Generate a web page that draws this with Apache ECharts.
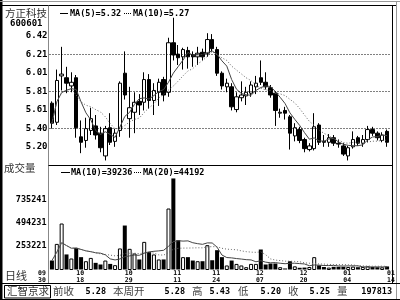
<!DOCTYPE html>
<html><head><meta charset="utf-8">
<script src="https://cdn.jsdelivr.net/npm/echarts@6/dist/echarts.min.js"></script>
<style>html,body{margin:0;padding:0;background:#fff}#c{width:400px;height:300px}</style>
</head><body><div id="c"></div>
<script>
// ---- data ----
const opens  = [5.68,5.47,5.98,5.96,5.87,5.96,5.31,5.27,5.38,5.43,5.35,5.10,5.41,5.26,5.38,6.01,5.51,5.58,5.70,5.69,
                5.94,5.71,5.80,5.94,5.80,6.345,6.22,6.19,6.26,6.21,6.19,6.24,6.23,6.38,6.27,6.01,5.86,5.86,5.61,5.74,
                5.76,5.79,5.86,5.96,5.91,5.85,5.79,5.57,5.60,5.53,5.32,5.39,5.28,5.17,5.18,5.44,5.26,5.25,5.30,5.24,
                5.21,5.10,5.20,5.30,5.24,5.28,5.39,5.35,5.27,5.37];
const closes = [5.46,5.93,6.00,5.90,5.91,5.41,5.25,5.40,5.51,5.33,5.19,5.40,5.25,5.35,5.90,5.77,5.63,5.69,5.66,5.94,
                5.71,5.82,5.91,5.77,6.345,6.21,6.18,6.27,6.19,6.19,6.23,6.19,6.38,6.28,6.01,5.87,5.90,5.64,5.75,5.77,
                5.80,5.88,5.90,5.91,5.86,5.77,5.60,5.58,5.57,5.35,5.41,5.27,5.18,5.21,5.42,5.25,5.25,5.30,5.24,5.23,
                5.12,5.19,5.28,5.24,5.28,5.39,5.35,5.30,5.33,5.25];
const lows   = [5.40,5.44,5.82,5.79,5.80,5.30,5.13,5.19,5.33,5.28,5.14,5.05,5.22,5.20,5.31,5.72,5.30,5.35,5.55,5.60,
                5.62,5.55,5.65,5.70,5.75,6.15,6.10,6.05,6.06,6.08,6.10,6.15,6.19,6.25,5.98,5.83,5.80,5.60,5.58,5.70,
                5.66,5.75,5.78,5.88,5.83,5.74,5.43,5.52,5.50,5.17,5.26,5.24,5.14,5.15,5.16,5.22,5.20,5.20,5.21,5.19,
                5.10,5.05,5.18,5.21,5.20,5.25,5.32,5.27,5.25,5.20];
const highs  = [5.70,6.05,6.30,6.08,6.02,5.99,5.49,5.52,5.63,5.55,5.42,5.43,5.57,5.40,5.92,6.25,5.86,5.80,5.78,6.02,
                6.00,5.90,5.95,5.97,6.40,6.62,6.32,6.29,6.30,6.25,6.30,6.28,6.45,6.44,6.30,6.03,5.95,5.90,5.80,5.92,
                5.86,5.92,5.98,6.15,6.02,5.88,5.81,5.62,5.64,5.55,5.46,5.42,5.30,5.24,5.57,5.46,5.33,5.34,5.33,5.28,
                5.24,5.21,5.37,5.32,5.33,5.43,5.42,5.37,5.36,5.39];
const volumes = [105000,277000,488000,168000,126000,236000,140000,98000,132000,81000,64000,105000,70000,57000,230000,
                 467000,226000,178000,116000,298000,194000,168000,116000,116000,643000,954000,315000,140000,140000,105000,
                 98000,98000,264000,108000,212000,140000,54000,105000,70000,54000,36000,70000,70000,219000,64000,
                 74000,74000,36000,23000,98000,45000,30000,32000,38000,140000,55000,38000,32000,40000,40000,
                 40000,38000,42000,36000,38000,45000,38000,36000,35000,43813];
const priceTickLabels  = ["5.20","5.40","5.61","5.81","6.01","6.21","6.42"];
const volumeTickLabels = ["253221","494231","735241"];
const dateLabelIndex = [0,5,15,25,33,42,51,60,69];
const dateLabelText  = ["09\n30","10\n18","10\n29","11\n11","11\n24","12\n07","12\n20","01\n04","01\n14"];
const priceLegend  = ["MA(5)=5.32","MA(10)=5.27"];
const volumeLegend = ["MA(10)=39236","MA(20)=44192"];
const stockName = "方正科技", stockCode = "600601";
const statusLabels = ["前收","本周开","高","低","收","量"];
const statusValues = ["5.28","5.28","5.43","5.20","5.25","197813"];

// ---- chart ----
const cats = closes.map((_, i) => String(i));
function ma(arr, n) {
  return arr.map((_, i) => { const s = Math.max(0, i - n + 1); let t = 0; for (let k = s; k <= i; k++) t += arr[k]; return t / (i - s + 1); });
}
const PSTEP = 0.2035, PBASE = 5.198, PMIN = PBASE - PSTEP, PPX = 90.9;
const VSTEP = 241010, VMIN = 253221 - VSTEP, VPX = 10344;
const GL = 49.5, GW = 340;
const mono = '"DejaVu Sans Mono"', cjk = '"Noto Sans CJK SC"';

const candle = opens.map((o, i) => [o, closes[i], lows[i], highs[i]]);
const volData = volumes.map((v, i) => ({
  value: v,
  itemStyle: closes[i] >= opens[i] ? { color: '#fff', borderColor: '#000', borderWidth: 1 } : { color: '#000', borderColor: '#000', borderWidth: 0 }
}));

const chart = echarts.init(document.getElementById('c'), null, { renderer: 'canvas' });
const hidden = { axisLine: { show: false }, axisTick: { show: false }, splitLine: { show: false } };
const dateLabelStyle = { fontFamily: mono, fontWeight: 'bold', fontSize: 6.5, lineHeight: 6.5, color: '#000', margin: 1 };

function txt(x, y, s, font, opts) {
  return { type: 'text', x: x, y: y, z: 10,
    style: Object.assign({ text: s, font: font, fill: '#000', textVerticalAlign: 'middle' }, (opts || {})) };
}
function ln(x1, y1, x2, y2, stroke, dash) {
  return { type: 'line', z: 5, shape: { x1, y1, x2, y2 }, style: { stroke: stroke, lineWidth: 1, lineDash: dash || null } };
}

const sx = [53, 113, 192, 238, 288, 337];
const sv = [106, 185, 230, 281, 330, 392];
const graphics = [
  { type: 'rect', z: 5, shape: { x: 0, y: 0, width: 2.5, height: 300 }, style: { fill: '#000' } },
  ln(0, 1.5, 400, 1.5, '#999'),
  ln(0, 5.5, 396, 5.5, '#000'),
  ln(392.5, 5.5, 392.5, 283.5, '#000'),
  ln(396.5, 1.5, 396.5, 299.5, '#999'),
  ln(48.5, 5.5, 48.5, 283.5, '#888'),
  ln(48.5, 165.5, 392.5, 165.5, '#000'),
  ln(0, 283.5, 400, 283.5, '#000'),
  ln(0, 299.5, 400, 299.5, '#000'),
  { type: 'rect', z: 5, shape: { x: 4.5, y: 285.5, width: 46, height: 12.5 }, style: { fill: 'none', stroke: '#000', lineWidth: 1 } },
  txt(5, 13.5, stockName, '10.5px ' + cjk, { fill: '#333' }),
  txt(10, 23.5, stockCode, 'bold 9px ' + mono),
  txt(4, 168, '成交量', '10.5px ' + cjk, { fill: '#333' }),
  txt(5, 276, '日线', '11px ' + cjk, { fill: '#333' }),
  txt(7, 291.5, '汇智京求', '10.5px ' + cjk, { fill: '#333' }),
  ln(60, 13.5, 68, 13.5, '#000'),
  txt(70, 13.5, priceLegend[0], 'bold 8.5px ' + mono),
  ln(124, 13.5, 132, 13.5, '#000', [1, 1]),
  txt(133, 13.5, priceLegend[1], 'bold 8.5px ' + mono),
  ln(61, 172.5, 70, 172.5, '#000'),
  txt(71, 172.5, volumeLegend[0], 'bold 8.5px ' + mono),
  ln(134, 172.5, 142, 172.5, '#000', [1, 1]),
  txt(143, 172.5, volumeLegend[1], 'bold 8.5px ' + mono)
];
statusLabels.forEach((s, i) => graphics.push(txt(sx[i], 291.5, s, '10.5px ' + cjk, { fill: '#444' })));
statusValues.forEach((s, i) => graphics.push(txt(sv[i], 291.5, s, 'bold 8.5px ' + mono, { textAlign: 'right' })));

const option = {
  animation: false,
  backgroundColor: '#fff',
  grid: [
    { left: GL, width: GW, top: 5.5, height: 160 },
    { left: GL, width: GW, top: 165.5, height: 104 }
  ],
  xAxis: [
    Object.assign({ type: 'category', gridIndex: 0, data: cats, boundaryGap: true, axisLabel: { show: false } }, hidden),
    Object.assign({ type: 'category', gridIndex: 1, position: 'bottom', data: cats, boundaryGap: true,
      axisLabel: Object.assign({ show: true, align: 'left', interval: (i) => dateLabelIndex.indexOf(i) > 0,
        formatter: (v, i) => { const k = dateLabelIndex.indexOf(i); return k > 0 ? dateLabelText[k] : ''; } }, dateLabelStyle) }, hidden),
    Object.assign({ type: 'category', gridIndex: 1, position: 'bottom', offset: 0, data: cats, boundaryGap: true,
      axisLabel: Object.assign({ show: true, align: 'right', padding: [0, 6, 0, 0], interval: (i) => i === dateLabelIndex[0],
        formatter: (v, i) => i === dateLabelIndex[0] ? dateLabelText[0] : '' }, dateLabelStyle) }, hidden)
  ],
  yAxis: [
    Object.assign({ type: 'value', gridIndex: 0, min: PMIN, max: PMIN + 160 / PPX, interval: PSTEP,
      axisLabel: { margin: 2, fontFamily: mono, fontWeight: 'bold', fontSize: 9, color: '#000',
        formatter: (v) => { const k = Math.round((v - PBASE) / PSTEP); return Math.abs(PBASE + k * PSTEP - v) < 0.01 ? (priceTickLabels[k] || '') : ''; } } }, hidden),
    Object.assign({ type: 'value', gridIndex: 1, min: VMIN, max: VMIN + 104 * VPX, interval: VSTEP,
      axisLabel: { margin: 3, fontFamily: mono, fontWeight: 'bold', fontSize: 8.5, color: '#000',
        formatter: (v) => { const k = Math.round((v - 253221) / VSTEP); return Math.abs(253221 + k * VSTEP - v) < 100 ? (volumeTickLabels[k] || '') : ''; } } }, hidden)
  ],
  series: [
    { type: 'candlestick', xAxisIndex: 0, yAxisIndex: 0, data: candle, barWidth: 4,
      itemStyle: { color: '#fff', color0: '#000', borderColor: '#000', borderColor0: '#000', borderWidth: 1 },
      markLine: { silent: true, symbol: 'none', label: { show: false }, animation: false,
        lineStyle: { type: [1, 2], color: '#000', width: 1 },
        data: [1, 3, 5].map(k => ({ yAxis: PBASE + k * PSTEP })) } },
    { type: 'line', xAxisIndex: 0, yAxisIndex: 0, data: ma(closes, 5), symbol: 'none', lineStyle: { color: '#444', width: 1 }, z: 3 },
    { type: 'line', xAxisIndex: 0, yAxisIndex: 0, data: ma(closes, 10), symbol: 'none', lineStyle: { color: '#666', width: 1, type: [1, 2] }, z: 3 },
    { type: 'bar', xAxisIndex: 1, yAxisIndex: 1, data: volData, barWidth: 4 },
    { type: 'line', xAxisIndex: 1, yAxisIndex: 1, data: ma(volumes, 10), symbol: 'none', lineStyle: { color: '#444', width: 1 }, z: 3 },
    { type: 'line', xAxisIndex: 1, yAxisIndex: 1, data: ma(volumes, 20), symbol: 'none', lineStyle: { color: '#666', width: 1, type: [1, 2] }, z: 3 }
  ],
  graphic: graphics
};
chart.setOption(option);
</script></body></html>
